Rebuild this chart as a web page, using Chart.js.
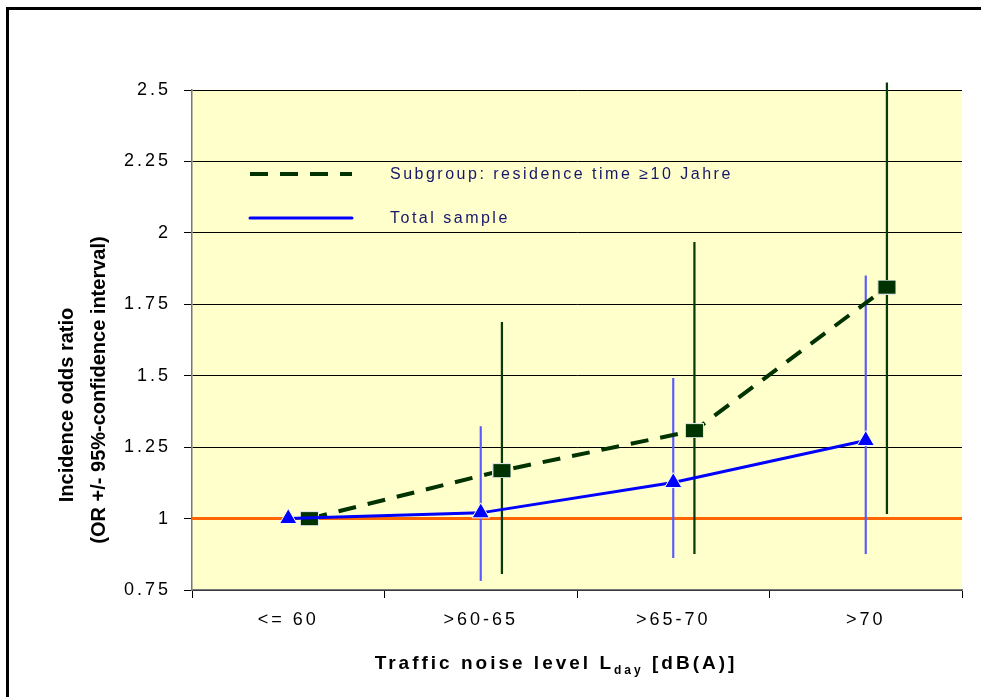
<!DOCTYPE html>
<html><head><meta charset="utf-8">
<script src="https://cdn.jsdelivr.net/npm/chart.js@4/dist/chart.umd.min.js"></script>
<style>html,body{margin:0;padding:0;background:#fff;overflow:hidden}canvas{display:block}</style>
</head><body>
<canvas id="c" width="981" height="697"></canvas>
<script>
// ---- data ----
const categories = ['<= 60', '>60-65', '>65-70', '>70'];
const yTickLabels = ['0.75', '1', '1.25', '1.5', '1.75', '2', '2.25', '2.5'];
const totalOR   = [1.0, 1.02, 1.126, 1.273];
const totalLow  = [null, 0.783, 0.863, 0.877];
const totalHigh = [null, 1.322, 1.491, 1.85];
const subOR     = [1.0, 1.168, 1.308, 1.81];
const subLow    = [null, 0.807, 0.877, 1.017];
const subHigh   = [null, 1.687, 1.967, 2.525];
const refValue  = [1, 1];
const legendLabels = ['Subgroup: residence time \u226510 Jahre', 'Total sample'];
const yTitle = ['Incidence odds ratio', '(OR +/- 95%-confidence interval)'];

// ---- styling ----
const SUB_SHIFT = 0.11;
const GREEN = '#003300', BLUE = '#0000ff', ORANGE = '#ff6600', NAVY = '#16166a';
const FONT = '"Liberation Sans", Arial, sans-serif';

const sq = document.createElement('canvas');
sq.width = 19; sq.height = 15;
(function(){ const g = sq.getContext('2d'); g.fillStyle = '#dfe6df'; g.fillRect(0,0,19,15); g.fillStyle = GREEN; g.fillRect(1,1,17,13); })();

const subPoints = subOR.map((v,i)=>({x:i+SUB_SHIFT, y:v}));
const subCI = subLow.map((lo,i)=> lo==null?null:{x:i+SUB_SHIFT, y:[lo, subHigh[i]]}).filter(Boolean);
const totCI = totalLow.map((lo,i)=> lo==null?null:[lo, totalHigh[i]]);

const decor = {
  id:'decor',
  beforeDraw(chart){
    const {ctx, chartArea:a} = chart;
    ctx.save();
    ctx.fillStyle = '#000';
    ctx.fillRect(6,7,chart.width,3);
    ctx.fillRect(6,7,3,chart.height);
    ctx.fillStyle = '#ffffcc';
    ctx.fillRect(a.left, a.top, a.right-a.left, a.bottom-a.top);
    ctx.restore();
    ctx.letterSpacing = '3px';
  },
  afterDraw(chart){
    const {ctx, chartArea:a} = chart;
    ctx.save();
    ctx.letterSpacing = '0px';
    // legend
    const lx0 = a.left + 58, lx1 = a.left + 160, ly = [a.top + 84, a.top + 128];
    ctx.lineCap = 'butt';
    ctx.strokeStyle = GREEN; ctx.lineWidth = 4; ctx.setLineDash([18,12]);
    ctx.beginPath(); ctx.moveTo(lx0, ly[0]); ctx.lineTo(lx1, ly[0]); ctx.stroke();
    ctx.setLineDash([]); ctx.strokeStyle = BLUE; ctx.lineWidth = 3; ctx.lineCap='round';
    ctx.beginPath(); ctx.moveTo(lx0, ly[1]); ctx.lineTo(lx1, ly[1]); ctx.stroke();
    ctx.fillStyle = NAVY; ctx.font = '16px ' + FONT; ctx.letterSpacing = '2.5px';
    ctx.textBaseline = 'middle'; ctx.textAlign = 'left';
    ctx.fillText(legendLabels[0], a.left + 198, ly[0]+1);
    ctx.fillText(legendLabels[1], a.left + 198, ly[1]+1);
    // y title
    ctx.fillStyle = '#000'; ctx.font = 'bold 20px ' + FONT; ctx.letterSpacing = '0px';
    ctx.textBaseline = 'alphabetic'; ctx.textAlign = 'center';
    ctx.save(); ctx.translate(73, 405); ctx.rotate(-Math.PI/2); ctx.fillText(yTitle[0], 0, 0); ctx.restore();
    ctx.save(); ctx.translate(105, 390); ctx.rotate(-Math.PI/2); ctx.fillText(yTitle[1], 0, 0); ctx.restore();
    // x title with subscript
    const p1 = 'Traffic noise level L', sub = 'day', p2 = ' [dB(A)]';
    ctx.letterSpacing = '3px'; ctx.textAlign = 'left';
    ctx.font = 'bold 19px ' + FONT; const w1 = ctx.measureText(p1).width, w2 = ctx.measureText(p2).width;
    ctx.font = 'bold 12px ' + FONT; const ws = ctx.measureText(sub).width;
    let x = 556 - (w1+ws+w2)/2; const by = 669;
    ctx.font = 'bold 19px ' + FONT; ctx.fillText(p1, x, by); x += w1;
    ctx.font = 'bold 12px ' + FONT; ctx.fillText(sub, x, by+5); x += ws;
    ctx.font = 'bold 19px ' + FONT; ctx.fillText(p2, x, by);
    ctx.restore();
  }
};

new Chart(document.getElementById('c'), {
  type: 'line',
  data: {
    labels: categories,
    datasets: [
      { type:'line', label:'ref', data: [{x:-0.5,y:refValue[0]},{x:3.5,y:refValue[1]}], xAxisID:'x2',
        borderColor: ORANGE, borderWidth: 3, pointRadius: 0, order: 10 },
      { type:'bar', label:'total CI', data: totCI, xAxisID:'x', backgroundColor: '#5a5aff',
        barThickness: 1.5, grouped:false, order: 8, clip:false },
      { type:'bar', label:'sub CI', data: subCI, xAxisID:'x2', backgroundColor: '#0a3a0a',
        barThickness: 1.6, grouped:false, order: 7, clip:false },
      { type:'line', label: legendLabels[0], data: subPoints, xAxisID:'x2', borderColor: GREEN,
        borderWidth: 4, borderDash:[18,12], pointStyle: sq, pointRadius: 9, order: 2 },
      { type:'line', label: legendLabels[1], data: totalOR, xAxisID:'x', borderColor: BLUE,
        borderWidth: 3, pointStyle:'triangle', pointRadius: 10, pointBackgroundColor: BLUE,
        pointBorderColor: '#ffffff', pointBorderWidth: 1, order: 1 }
    ]
  },
  options: {
    responsive: false, animation: false,
    layout: { padding: { top: 90, right: 19, left: 0, bottom: 0 } },
    plugins: { legend: { display: false }, tooltip: { enabled: false } },
    scales: {
      x: { type:'category', offset: true,
        grid: { offset: true, drawOnChartArea: false, drawTicks: true, tickLength: 8, color:'#000' },
        border: { color:'#777', width: 1.5 },
        ticks: { color:'#000', font:{ family: FONT, size: 18 }, padding: 11, maxRotation:0 },
        afterFit(s){ s.height = 107; } },
      x2: { type:'linear', display:false, min:-0.5, max:3.5, offset:false, grid:{ offset:false } },
      y: { min: 0.75, max: 2.5,
        ticks: { stepSize: 0.25, color:'#000', font:{ family: FONT, size: 18 }, padding: 13,
          callback(v, i){ return yTickLabels[i]; } },
        grid: { color:'#000', lineWidth: 1, tickLength: 8 },
        border: { color:'#777', width: 1.5 },
        afterFit(s){ s.width = 192; } }
    }
  },
  plugins: [decor]
});
</script>
</body></html>
